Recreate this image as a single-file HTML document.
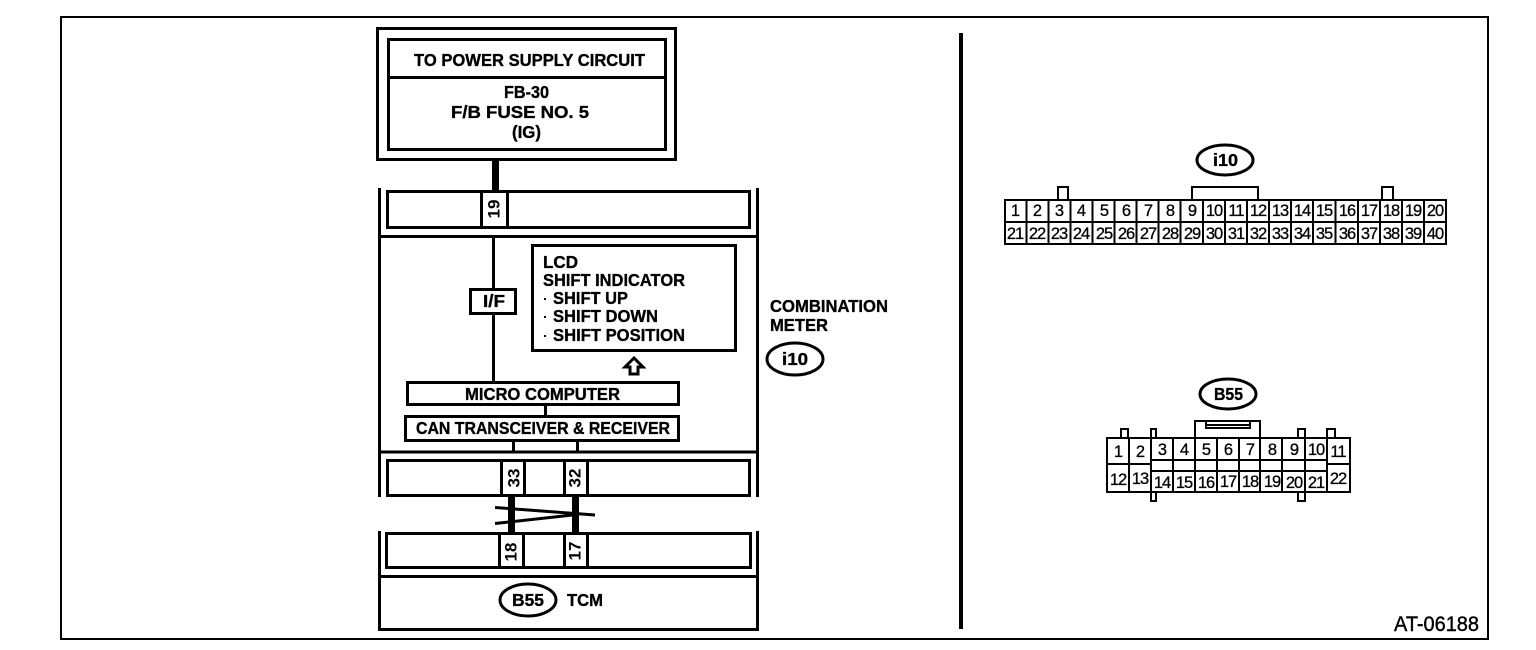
<!DOCTYPE html>
<html><head><meta charset="utf-8"><style>
html,body{margin:0;padding:0;background:#fff;width:1536px;height:650px;overflow:hidden}
svg{display:block}
text{font-family:"Liberation Sans",sans-serif;fill:#000}
.b{font-weight:bold;font-size:17.5px;stroke:#000;stroke-width:.35px}
.n{font-size:16.5px;stroke:#000;stroke-width:.3px;text-anchor:middle;letter-spacing:-1px}
.r{font-weight:bold;font-size:17px;text-anchor:middle;dominant-baseline:central}
.s{fill:none;stroke:#000;stroke-width:3}
.t{fill:none;stroke:#000;stroke-width:2}
.w{fill:#fff;stroke:#000;stroke-width:3}
</style></head><body>
<svg width="1536" height="650" viewBox="0 0 1536 650" xmlns="http://www.w3.org/2000/svg">
<rect class="t" x="61" y="17" width="1427" height="622"/>
<rect x="959" y="33" width="4" height="596"/>

<!-- power box -->
<rect class="s" x="377.5" y="28.5" width="298" height="131"/>
<rect class="s" x="388.5" y="39.5" width="277" height="110"/>
<path class="s" d="M388 77.5H666"/>
<text class="b" x="414" y="66" textLength="231" lengthAdjust="spacingAndGlyphs">TO POWER SUPPLY CIRCUIT</text>
<text class="b" x="504" y="98" textLength="45" lengthAdjust="spacingAndGlyphs">FB-30</text>
<text class="b" x="451" y="118" textLength="138" lengthAdjust="spacingAndGlyphs">F/B FUSE NO. 5</text>
<text class="b" x="512" y="138" textLength="29" lengthAdjust="spacingAndGlyphs">(IG)</text>
<rect x="492" y="160" width="7" height="31"/>

<!-- meter frame -->
<path class="s" d="M379.500 188V497M757.500 188V497M379 236.500H758M379 452H758"/>
<rect class="s" x="387.5" y="191.5" width="362" height="36"/>
<path class="s" d="M481.500 191V227M507.500 191V227"/>
<text class="r" transform="translate(494 209) rotate(-90)">19</text>
<path class="s" d="M493.500 236V381"/>
<rect class="w" x="470.5" y="289.5" width="45" height="24"/>
<text class="b" x="483" y="307" textLength="22" lengthAdjust="spacingAndGlyphs">I/F</text>
<rect class="s" x="532.5" y="245.5" width="203" height="105"/>
<text class="b" x="543" y="268" textLength="35" lengthAdjust="spacingAndGlyphs">LCD</text>
<text class="b" x="543" y="286" textLength="142" lengthAdjust="spacingAndGlyphs">SHIFT INDICATOR</text>
<text class="b" x="553" y="304" textLength="75" lengthAdjust="spacingAndGlyphs">SHIFT UP</text>
<text class="b" x="553" y="322" textLength="105" lengthAdjust="spacingAndGlyphs">SHIFT DOWN</text>
<text class="b" x="553" y="341" textLength="132" lengthAdjust="spacingAndGlyphs">SHIFT POSITION</text>
<rect x="544" y="298" width="2" height="2"/><rect x="544" y="316" width="2" height="2"/><rect x="544" y="335" width="2" height="2"/>
<path class="s" d="M634 358L625 367H630V374H638V367H643Z"/>
<rect class="w" x="407.5" y="382.5" width="271" height="22"/>
<text class="b" x="465" y="400" textLength="155" lengthAdjust="spacingAndGlyphs">MICRO COMPUTER</text>
<path class="s" d="M545.500 405V416"/>
<rect class="w" x="405.5" y="416.5" width="273" height="24"/>
<text class="b" x="416" y="434" textLength="254" lengthAdjust="spacingAndGlyphs">CAN TRANSCEIVER &amp; RECEIVER</text>
<path class="s" d="M513.500 441V452M577.500 441V452"/>

<rect class="s" x="387.5" y="460.5" width="362" height="35"/>
<path class="s" d="M501.500 460V496M524.500 460V496M564.500 460V496M587.500 460V496"/>
<text class="r" transform="translate(514 478) rotate(-90)">33</text>
<text class="r" transform="translate(575 478) rotate(-90)">32</text>

<rect x="508" y="496" width="7" height="38"/>
<rect x="572" y="496" width="7" height="38"/>
<path class="s" d="M495 507.500L575 513.500L595 515M495 523.500L577 514.500"/>

<!-- TCM -->
<path class="s" d="M379.500 531V629.500H757.500V531M379 576.500H758"/>
<rect class="s" x="386.5" y="533.5" width="364" height="34"/>
<path class="s" d="M499.500 533V568M523.500 533V568M564.500 533V568M587.500 533V568"/>
<text class="r" transform="translate(511 552) rotate(-90)">18</text>
<text class="r" transform="translate(575 551) rotate(-90)">17</text>
<ellipse class="s" cx="528" cy="600" rx="28" ry="16"/>
<text class="b" x="512" y="606" textLength="32" lengthAdjust="spacingAndGlyphs">B55</text>
<text class="b" x="567" y="606" textLength="36" lengthAdjust="spacingAndGlyphs">TCM</text>

<text class="b" x="770" y="312" textLength="118" lengthAdjust="spacingAndGlyphs">COMBINATION</text>
<text class="b" x="770" y="331" textLength="58" lengthAdjust="spacingAndGlyphs">METER</text>
<ellipse class="s" cx="795" cy="359" rx="28" ry="16"/>
<text class="b" x="782" y="365" textLength="26" lengthAdjust="spacingAndGlyphs">i10</text>

<text x="1394" y="631" font-size="21" stroke="#000" stroke-width=".4" textLength="85" lengthAdjust="spacingAndGlyphs">AT-06188</text>

<!-- i10 connector -->
<ellipse class="s" cx="1225" cy="160" rx="28" ry="15"/>
<text class="b" x="1213" y="166" textLength="25" lengthAdjust="spacingAndGlyphs">i10</text>
<path class="t" d="M1058 200V187H1068V200M1192 200V187H1258V200M1382 200V187H1393V200"/>
<rect class="t" x="1005" y="200" width="441" height="44"/>
<path class="t" d="M1005 222H1446M1026.500 200V244M1048.500 200V244M1070.500 200V244M1092.500 200V244M1114.500 200V244M1136.500 200V244M1158.500 200V244M1180.500 200V244M1203 200V244M1225 200V244M1247 200V244M1269 200V244M1291 200V244M1313 200V244M1335.500 200V244M1358 200V244M1380 200V244M1402 200V244M1424 200V244"/>
<text class="n" x="1015" y="216">1</text><text class="n" x="1037" y="216">2</text><text class="n" x="1059" y="216">3</text><text class="n" x="1081" y="216">4</text><text class="n" x="1104" y="216">5</text><text class="n" x="1126" y="216">6</text><text class="n" x="1148" y="216">7</text><text class="n" x="1170" y="216">8</text><text class="n" x="1192" y="216">9</text><text class="n" x="1214" y="216">10</text><text class="n" x="1236" y="216">11</text><text class="n" x="1258" y="216">12</text><text class="n" x="1280" y="216">13</text><text class="n" x="1302" y="216">14</text><text class="n" x="1324" y="216">15</text><text class="n" x="1347" y="216">16</text><text class="n" x="1369" y="216">17</text><text class="n" x="1391" y="216">18</text><text class="n" x="1413" y="216">19</text><text class="n" x="1435" y="216">20</text>
<text class="n" x="1015" y="239">21</text><text class="n" x="1037" y="239">22</text><text class="n" x="1059" y="239">23</text><text class="n" x="1081" y="239">24</text><text class="n" x="1104" y="239">25</text><text class="n" x="1126" y="239">26</text><text class="n" x="1148" y="239">27</text><text class="n" x="1170" y="239">28</text><text class="n" x="1192" y="239">29</text><text class="n" x="1214" y="239">30</text><text class="n" x="1236" y="239">31</text><text class="n" x="1258" y="239">32</text><text class="n" x="1280" y="239">33</text><text class="n" x="1302" y="239">34</text><text class="n" x="1324" y="239">35</text><text class="n" x="1347" y="239">36</text><text class="n" x="1369" y="239">37</text><text class="n" x="1391" y="239">38</text><text class="n" x="1413" y="239">39</text><text class="n" x="1435" y="239">40</text>

<!-- B55 connector -->
<ellipse class="s" cx="1228" cy="394" rx="28" ry="15"/>
<text class="b" x="1214" y="400" textLength="29" lengthAdjust="spacingAndGlyphs">B55</text>
<path class="t" d="M1121 438V429H1128V438M1151 438V429H1156V438M1298 438V429H1305V438M1327 438V429H1335V438"/>
<path class="t" d="M1151 492V501H1156V492M1298 492V501H1305V492"/>
<path class="t" d="M1195 438V421H1260V438M1206 421V428H1250V421M1206 425H1250"/>
<rect class="t" x="1107" y="438" width="243" height="54"/>
<path class="t" d="M1107 464H1151M1327 464H1350M1151 460H1327M1151 471H1327"/>
<path class="t" d="M1129 438V492M1151 438V492M1173 438V492M1195 438V492M1217 438V492M1239 438V492M1260 438V492M1282 438V492M1305 438V492M1327 438V492"/>
<text class="n" x="1118" y="457">1</text><text class="n" x="1140" y="457">2</text><text class="n" x="1162" y="455">3</text><text class="n" x="1184" y="455">4</text><text class="n" x="1206" y="455">5</text><text class="n" x="1228" y="455">6</text><text class="n" x="1250" y="455">7</text><text class="n" x="1272" y="455">8</text><text class="n" x="1294" y="455">9</text><text class="n" x="1316" y="455">10</text><text class="n" x="1338" y="457">11</text>
<text class="n" x="1118" y="485">12</text><text class="n" x="1140" y="484">13</text><text class="n" x="1162" y="488">14</text><text class="n" x="1184" y="488">15</text><text class="n" x="1206" y="488">16</text><text class="n" x="1228" y="487">17</text><text class="n" x="1250" y="487">18</text><text class="n" x="1272" y="487">19</text><text class="n" x="1294" y="488">20</text><text class="n" x="1316" y="488">21</text><text class="n" x="1338" y="484">22</text>
</svg>
</body></html>
